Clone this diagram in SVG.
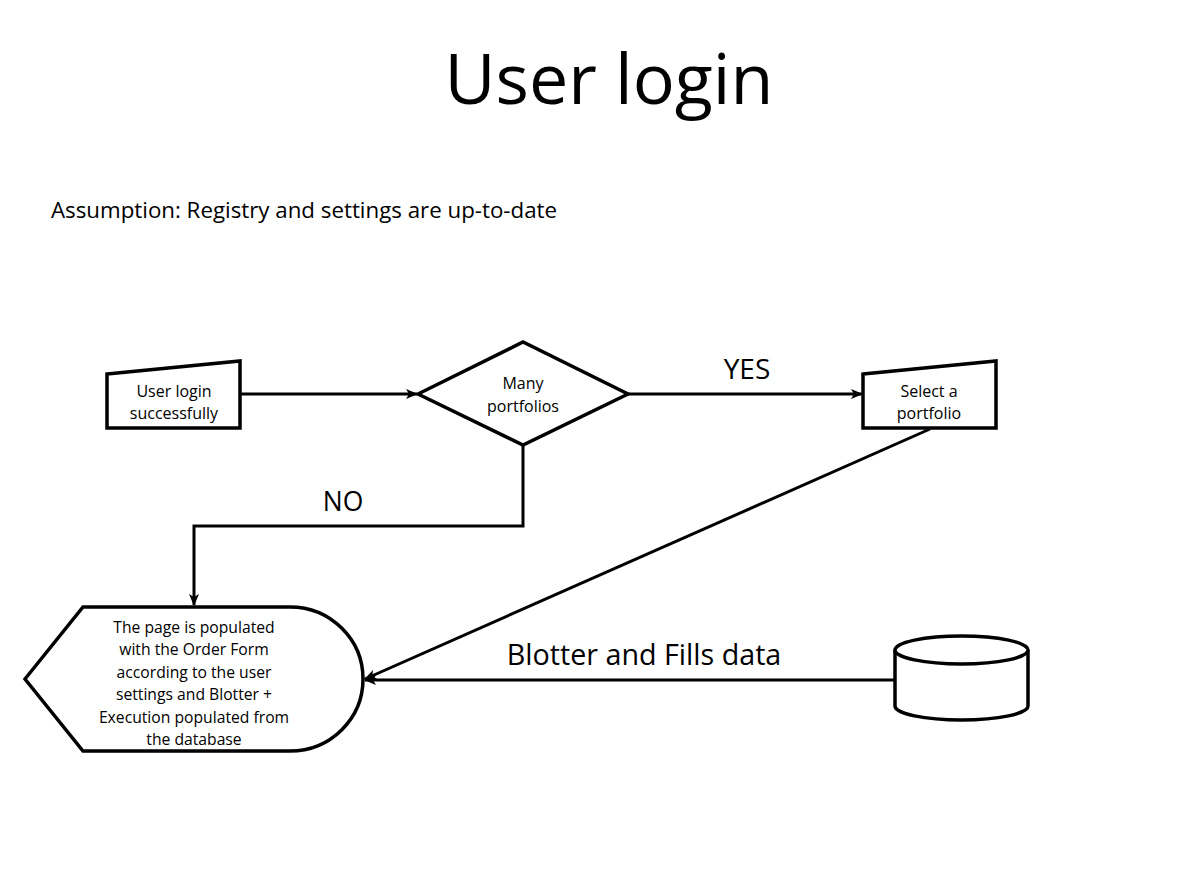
<svg xmlns="http://www.w3.org/2000/svg" width="1204" height="888" viewBox="0 0 1204 888">
<style>
.s{fill:#fff;stroke:#000;stroke-width:3.5;stroke-linejoin:miter}
.c{fill:none;stroke:#000;stroke-width:3}
text{font-family:"Open Sans","Liberation Sans",sans-serif;fill:#000}
.n{font-size:16px;text-anchor:middle}
.d{font-size:15.7px;text-anchor:middle}
</style>
<defs>
<marker id="a" markerWidth="12" markerHeight="10" refX="11" refY="5" orient="auto" markerUnits="userSpaceOnUse">
<path d="M0,0 L12,5 L0,10 L3,5 Z" fill="#000"/>
</marker>
</defs>
<rect width="1204" height="888" fill="#fff"/>
<text x="609" y="104" font-size="70" text-anchor="middle">User login</text>
<text x="51" y="218" font-size="22.3">Assumption: Registry and settings are up-to-date</text>
<g id="connectors">
<path class="c" d="M241,394 L417,394" marker-end="url(#a)"/>
<path class="c" d="M628,394 L862,394" marker-end="url(#a)"/>
<path class="c" d="M523,445 L523,526 L194,526 L194,605" marker-end="url(#a)"/>
<path class="c" d="M930,429 L365,679" marker-end="url(#a)"/>
<path class="c" d="M895,680 L365,680" marker-end="url(#a)"/>
<text x="747" y="379" font-size="28" text-anchor="middle">YES</text>
<text x="343" y="511" font-size="26.5" text-anchor="middle">NO</text>
<text x="644" y="665" font-size="28.7" text-anchor="middle">Blotter and Fills data</text>
</g>
<g id="login">
<path class="s" d="M107,374 L240,361 L240,428 L107,428 Z"/>
<text class="n" x="174" y="397">User login</text>
<text class="n" x="174" y="419">successfully</text>
</g>
<g id="decision">
<path class="s" d="M418,394 L523,342 L628,394 L523,445 Z"/>
<text class="n" x="523" y="389" font-size="15">Many</text>
<text class="n" x="523" y="412" font-size="15">portfolios</text>
</g>
<g id="select">
<path class="s" d="M863,374 L996,361 L996,428 L863,428 Z"/>
<text class="n" x="929" y="397">Select a</text>
<text class="n" x="929" y="419">portfolio</text>
</g>
<g id="display">
<path class="s" d="M25,679 L83,607 L290,607 A73,72 0 0 1 290,751 L83,751 Z"/>
<text class="d" x="194" y="633">The page is populated</text>
<text class="d" x="194" y="655">with the Order Form</text>
<text class="d" x="194" y="678">according to the user</text>
<text class="d" x="194" y="700">settings and Blotter +</text>
<text class="d" x="194" y="723">Execution populated from</text>
<text class="d" x="194" y="745">the database</text>
</g>
<g id="database">
<path class="s" d="M895,650 L895,706 A66.5,14 0 0 0 1028,706 L1028,650"/>
<ellipse class="s" cx="961.5" cy="650" rx="66.5" ry="14"/>
</g>
</svg>
